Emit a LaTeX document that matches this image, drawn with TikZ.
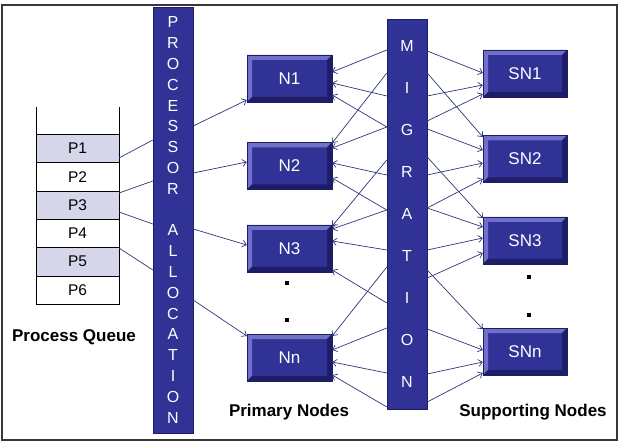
\documentclass[tikz,border=0pt]{standalone}
\usepackage{fontspec}
\setmainfont{Liberation Sans}
\usetikzlibrary{positioning,arrows.meta}

\definecolor{navy}{RGB}{48,50,150}
\definecolor{navydark}{RGB}{30,30,104}
\definecolor{navylight}{RGB}{112,112,200}
\definecolor{cellfill}{RGB}{214,214,234}
\definecolor{linkblue}{RGB}{45,55,122}
\definecolor{framegray}{RGB}{55,55,55}

\begin{document}
\begin{tikzpicture}[x=1pt, y=-1pt, >={Straight Barb[length=4pt,width=7pt]}, node distance=0pt,
  cell/.style={draw, minimum width=83pt, minimum height=28.3pt, inner sep=0pt, outer sep=0pt, font=\fontsize{15.5}{15.5}\selectfont},
  shaded cell/.style={cell, fill=cellfill},
  bar/.style={draw=navydark, fill=navy, text=white, minimum width=40pt, inner sep=0pt, align=center},
  bevel node/.style={draw=navydark, fill=navy, text=white, minimum width=85pt, minimum height=47pt, inner sep=0pt,
    font=\fontsize{17}{17}\selectfont,
    path picture={
      \path (path picture bounding box.south west) coordinate (bsw)
            (path picture bounding box.north east) coordinate (bne);
      \fill[navylight] (bsw) |- (bne) -- ++(-5pt,-5pt) -| ([shift={(5pt,5pt)}]bsw) -- cycle;
      \fill[navydark] (bsw) -| (bne) -- ++(-5pt,-5pt) |- ([shift={(5pt,5pt)}]bsw) -- cycle;
    }},
  caption/.style={font=\fontsize{17}{17}\selectfont\bfseries},
  dot mark/.style={fill=black, minimum size=3.5pt, inner sep=0pt},
  link/.style={linkblue, line width=0.7pt}]

  \useasboundingbox (0,0) rectangle (619,444);
  \draw[framegray, line width=1.6pt] (2,5) rectangle (617,440);

  % Process queue
  \node[shaded cell] (P1) at (77.5,148.5) {P1};
  \node[cell] (P2) [below=of P1] {P2};
  \node[shaded cell] (P3) [below=of P2] {P3};
  \node[cell] (P4) [below=of P3] {P4};
  \node[shaded cell] (P5) [below=of P4] {P5};
  \node[cell] (P6) [below=of P5] {P6};
  \draw (P1.north west) -- ++(0,-27);
  \draw (P1.north east) -- ++(0,-27);
  \node[caption] (qlabel) at (74,337) {Process Queue};

  % Bars
  \node[bar, minimum height=426pt, font=\fontsize{16}{20.8}\selectfont] (alloc) at (173,220)
    {P\\R\\O\\C\\E\\S\\S\\O\\R\\\mbox{}\\A\\L\\L\\O\\C\\A\\T\\I\\O\\N};
  \node[bar, minimum height=390pt, font=\fontsize{16}{41.9}\selectfont] (mig) at (407,214)
    {M\\I\\G\\R\\A\\T\\I\\O\\N};

  % Primary nodes
  \node[bevel node] (N1) at (289.5,78.5) {N1};
  \node[bevel node] (N2) [below=40pt of N1] {N2};
  \node[bevel node] (N3) [below=35pt of N2] {N3};
  \node[bevel node] (Nn) [below=62pt of N3] {Nn};
  \node[dot mark] (pdot1) at (287,283) {};
  \node[dot mark] (pdot2) at (287,320) {};
  \node[caption] (plabel) at (289,412) {Primary Nodes};

  % Supporting nodes
  \node[bevel node, minimum width=84pt] (SN1) at (525,73.5) {SN1};
  \node[bevel node, minimum width=84pt] (SN2) [below=38pt of SN1] {SN2};
  \node[bevel node, minimum width=84pt] (SN3) [below=34pt of SN2] {SN3};
  \node[bevel node, minimum width=84pt] (SNn) [below=64pt of SN3] {SNn};
  \node[dot mark] (sdot1) at (529,277) {};
  \node[dot mark] (sdot2) at (529,315) {};
  \node[caption] (slabel) at (533,412) {Supporting Nodes};

  % Queue to allocation
  \foreach \p/\a/\b in {P1/158/140, P3/193/181, P3/212/224, P5/248/270}
    \draw[link] (\p.east |- 0,\a) -- (alloc.west |- 0,\b);

  % Allocation to primary nodes
  \foreach \a/\n/\b in {126/N1/100, 173/N2/162, 229/N3/245, 300/Nn/336}
    \draw[link, ->] (alloc.east |- 0,\a) -- (\n.west |- 0,\b);

  % Migration to primary nodes
  \foreach \a/\n/\b in {50/N1/72, 96/N1/83, 127/N1/95, 73/N2/143, 127/N2/148, 175/N2/163, 210/N2/178,
      160/N3/226, 210/N3/229, 250/N3/241, 303/N3/270, 267/Nn/336, 328/Nn/350, 373/Nn/362, 407/Nn/375}
    \draw[link, ->] (mig.west |- 0,\a) -- (\n.east |- 0,\b);

  % Migration to supporting nodes
  \foreach \a/\n/\b in {51/SN1/73, 96/SN1/85, 121/SN1/94, 73/SN2/137, 129/SN2/150, 175/SN2/163, 208/SN2/179,
      157/SN3/218, 208/SN3/227, 250/SN3/238, 278/SN3/253, 270/SNn/329, 329/SNn/350, 374/SNn/362, 402/SNn/373}
    \draw[link, ->] (mig.east |- 0,\a) -- (\n.west |- 0,\b);
\end{tikzpicture}
\end{document}
